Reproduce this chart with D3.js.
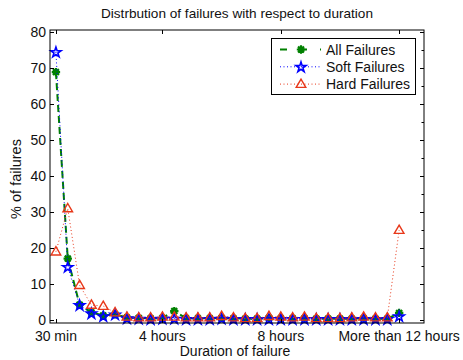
<!DOCTYPE html>
<html>
<head>
<meta charset="utf-8">
<script src="https://cdn.jsdelivr.net/npm/d3@7"></script>
<style>
  html, body { margin: 0; padding: 0; background: #fff; }
  svg { display: block; font-family: "Liberation Sans", Arial, Helvetica, sans-serif; }
</style>
</head>
<body>
<div id="chart"></div>
<script>
'use strict';

// Werte (Index 1..30)
const xIndex = d3.range(1, 31);
const xTickValues = [1, 10, 20, 30];
const xTickLabels = ['30 min', '4 hours', '8 hours', 'More than 12 hours'];
const yTickValues = [0, 10, 20, 30, 40, 50, 60, 70, 80];

const allFailures  = [68.8, 17.0, 4.2, 2.0, 1.2, 1.5, 0.6, 0.5, 0.4, 0.5, 2.4, 0.4, 0.4, 0.4, 0.5,
                      0.4, 0.3, 0.3, 0.5, 0.4, 0.4, 0.4, 0.3, 0.3, 0.3, 0.3, 0.4, 0.3, 0.3, 1.9];
const softFailures = [74.4, 14.7, 4.1, 1.8, 1.0, 1.5, 0.4, 0.3, 0.2, 0.3, 0.3, 0.2, 0.2, 0.2, 0.3,
                      0.2, 0.2, 0.2, 0.2, 0.2, 0.2, 0.2, 0.2, 0.2, 0.2, 0.2, 0.2, 0.2, 0.2, 1.0];
const hardFailures = [18.9, 30.9, 9.6, 4.1, 3.8, 2.0, 0.8, 0.6, 0.6, 0.8, 0.8, 0.6, 0.6, 0.6, 1.0,
                      0.6, 0.4, 0.4, 1.0, 0.8, 0.6, 0.8, 0.4, 0.4, 0.4, 0.6, 0.8, 0.6, 0.6, 24.9];

const seriesNames = ['All Failures', 'Soft Failures', 'Hard Failures'];

(function () {
  const width = 463, height = 360;
  const plotL = 50, plotR = 424, plotT = 30, plotB = 323;
  const FS = 14;

  const svg = d3.select('#chart').append('svg')
    .attr('width', width).attr('height', height);

  const x = d3.scaleLinear().domain([0.5, 32.1]).range([plotL, plotR]);
  const y = d3.scaleLinear().domain([-0.9, 80.5]).range([plotB, plotT]);

  const SERIES = [
    { name: seriesNames[0], values: allFailures,  color: '#008000', width: 2, dash: '7,4', marker: 'asterisk' },
    { name: seriesNames[1], values: softFailures, color: '#0000ff', width: 1, dash: '1,2.5', marker: 'star' },
    { name: seriesNames[2], values: hardFailures, color: '#e8381a', width: 1, dash: '1,2.5', marker: 'triangle' }
  ];

  function drawMarker(g, type, color) {
    if (type === 'asterisk') {
      const r = 4.2;
      const d = [0, 45, 90, 135].map(a => {
        const rad = a * Math.PI / 180;
        const dx = r * Math.cos(rad), dy = r * Math.sin(rad);
        return `M${-dx},${-dy}L${dx},${dy}`;
      }).join('');
      g.append('path').attr('d', d).attr('stroke', color).attr('stroke-width', 2.2).attr('fill', 'none');
      g.append('circle').attr('r', 2.8).attr('fill', color);
    } else if (type === 'star') {
      g.append('path').attr('d', d3.symbol(d3.symbolStar, 32)())
        .attr('transform', 'translate(0,0.5)')
        .attr('fill', 'none').attr('stroke', color).attr('stroke-width', 1.6);
    } else {
      g.append('path').attr('d', d3.symbol(d3.symbolTriangle, 40)())
        .attr('transform', 'translate(0,0.5)')
        .attr('fill', 'none').attr('stroke', color).attr('stroke-width', 1.4);
    }
  }

  // Titel
  svg.append('text')
    .attr('x', (plotL + plotR) / 2).attr('y', 18)
    .attr('text-anchor', 'middle').attr('font-size', 13.6).attr('fill', '#111')
    .text('Distrbution of failures with respect to duration');

  // Daten
  const gData = svg.append('g');
  const line = d3.line().x((d, i) => x(xIndex[i])).y(d => y(d));

  SERIES.forEach(s => {
    gData.append('path')
      .attr('d', line(s.values))
      .attr('fill', 'none')
      .attr('stroke', s.color)
      .attr('stroke-width', s.width)
      .attr('stroke-dasharray', s.dash);
    s.values.forEach((v, i) => {
      const g = gData.append('g').attr('transform', `translate(${x(xIndex[i])},${y(v)})`);
      drawMarker(g, s.marker, s.color);
    });
  });

  // Achsen-Rahmen und Ticks (nach innen)
  const gAxes = svg.append('g');
  gAxes.append('rect')
    .attr('x', plotL).attr('y', plotT).attr('width', plotR - plotL).attr('height', plotB - plotT)
    .attr('fill', 'none').attr('stroke', '#000').attr('stroke-width', 1);

  xTickValues.forEach((v, i) => {
    const px = Math.round(x(v)) + 0.5;
    gAxes.append('line').attr('x1', px).attr('x2', px).attr('y1', plotB).attr('y2', plotB - 4).attr('stroke', '#000');
    gAxes.append('line').attr('x1', px).attr('x2', px).attr('y1', plotT).attr('y2', plotT + 4).attr('stroke', '#000');
    gAxes.append('text')
      .attr('x', x(v)).attr('y', 341)
      .attr('text-anchor', 'middle').attr('font-size', FS).attr('fill', '#111')
      .text(xTickLabels[i]);
  });

  yTickValues.forEach(v => {
    const py = Math.round(y(v)) + 0.5;
    gAxes.append('line').attr('x1', plotL).attr('x2', plotL + 4).attr('y1', py).attr('y2', py).attr('stroke', '#000');
    gAxes.append('line').attr('x1', plotR).attr('x2', plotR - 4).attr('y1', py).attr('y2', py).attr('stroke', '#000');
    gAxes.append('text')
      .attr('x', 46).attr('y', y(v)).attr('dy', '0.36em')
      .attr('text-anchor', 'end').attr('font-size', FS).attr('fill', '#111')
      .text(v);
  });

  // kleine Ticks rechts (alle 5)
  d3.range(5, 80, 10).forEach(v => {
    const py = Math.round(y(v)) + 0.5;
    gAxes.append('line').attr('x1', plotR).attr('x2', plotR - 2.5).attr('y1', py).attr('y2', py).attr('stroke', '#000');
  });

  // Achsentitel
  svg.append('text')
    .attr('x', 235).attr('y', 356)
    .attr('text-anchor', 'middle').attr('font-size', FS).attr('fill', '#111')
    .text('Duration of failure');

  svg.append('text')
    .attr('transform', 'translate(21,179) rotate(-90)')
    .attr('text-anchor', 'middle').attr('font-size', 14.5).attr('fill', '#111')
    .text('% of failures');

  // Legende
  const legend = svg.append('g');
  legend.append('rect')
    .attr('x', 271.5).attr('y', 38.5).attr('width', 144).attr('height', 56)
    .attr('fill', '#fff').attr('stroke', '#000').attr('stroke-width', 1);

  SERIES.forEach((s, i) => {
    const ly = 49.5 + i * 17.3;
    legend.append('line')
      .attr('x1', 280).attr('x2', 321).attr('y1', ly).attr('y2', ly)
      .attr('stroke', s.color).attr('stroke-width', s.width)
      .attr('stroke-dasharray', s.marker === 'asterisk' ? '7,13' : s.dash);
    const g = legend.append('g').attr('transform', `translate(301,${ly})`);
    drawMarker(g, s.marker, s.color);
    legend.append('text')
      .attr('x', 326).attr('y', ly).attr('dy', '0.36em')
      .attr('font-size', FS).attr('fill', '#111')
      .text(s.name);
  });
})();
</script>
</body>
</html>
